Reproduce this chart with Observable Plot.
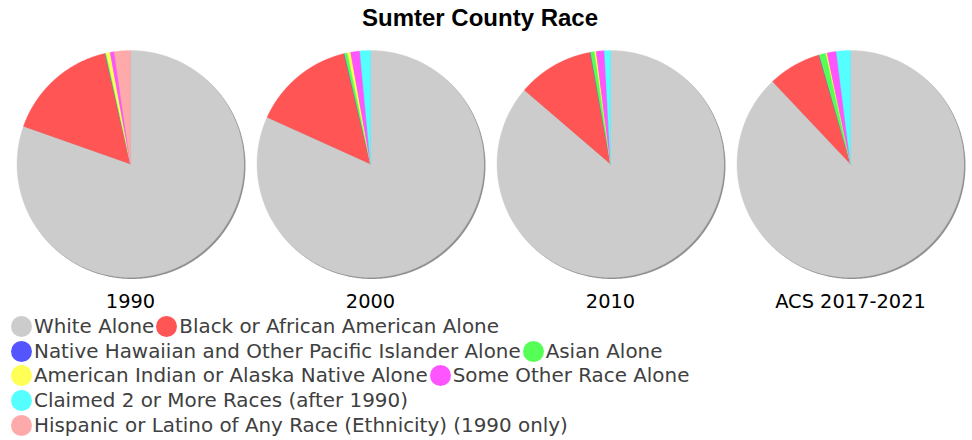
<!DOCTYPE html>
<html><head><meta charset="utf-8">
<script src="https://cdn.jsdelivr.net/npm/d3@7"></script>
<script src="https://cdn.jsdelivr.net/npm/@observablehq/plot@0.6"></script>
<style>
body{margin:0;background:#fff;width:972px;height:440px;position:relative;overflow:hidden;font-family:"DejaVu Sans",sans-serif}
#title{position:absolute;left:0;top:3px;width:960px;text-align:center;font:bold 24px "Liberation Sans",Arial,sans-serif;color:#000;line-height:30px}
#chart{position:absolute;left:0;top:34px}
#legend{position:absolute;left:11px;top:314px;font-size:19.9px;color:#404040;font-family:"DejaVu Sans",sans-serif}
.row{display:flex;align-items:center;height:24.8px;white-space:nowrap}
.sw{width:21px;height:21px;border-radius:50%;margin-right:2px;flex:none}
.lab{margin-right:2px}
</style></head><body>
<div id="title">Sumter County Race</div>
<div id="chart"></div>
<div id="legend"></div>
<script>
const years = ["1990", "2000", "2010", "ACS 2017-2021"];
const races = [
  "White Alone",
  "Black or African American Alone",
  "Native Hawaiian and Other Pacific Islander Alone",
  "Asian Alone",
  "American Indian or Alaska Native Alone",
  "Some Other Race Alone",
  "Claimed 2 or More Races (after 1990)",
  "Hispanic or Latino of Any Race (Ethnicity) (1990 only)"
];
const colors = ["#cccccc", "#ff5555", "#5555ff", "#55ff55", "#ffff55", "#ff55ff", "#55ffff", "#ffaaaa"];
// shares (%) in race order
const share1990 = [80.4, 16.0, 0.03, 0.14, 0.57, 0.57, 0, 2.3];
const share2000 = [81.8, 14.5, 0.05, 0.45, 0.45, 1.3, 1.5, 0];
const share2010 = [86.3, 10.85, 0.05, 0.57, 0.24, 1.15, 0.86, 0];
const shareACS  = [88.0, 7.55, 0.05, 0.95, 0.2, 1.3, 2.0, 0];
const legendRows = [[0, 1], [2, 3], [4, 5], [6], [7]];

const shares = [share1990, share2000, share2010, shareACS];
const pie = d3.pie().sort(null).value(d => d);
const slicePts = [];
const shadowPts = [];
years.forEach((year, yi) => {
  const arcs = pie(shares[yi]);
  arcs.forEach((a, i) => {
    if (a.endAngle - a.startAngle <= 0) return;
    const key = year + "|" + i;
    slicePts.push({year, race: races[i], key, x: 0, y: 0});
    const n = Math.max(2, Math.ceil((a.endAngle - a.startAngle) / 0.005));
    for (let k = 0; k <= n; k++) {
      const t = a.startAngle + (a.endAngle - a.startAngle) * k / n;
      slicePts.push({year, race: races[i], key, x: Math.sin(t), y: Math.cos(t)});
    }
    slicePts.push({year, race: races[i], key, x: 0, y: 0});
  });
  const off = 0.013;
  for (let k = 0; k <= 720; k++) {
    const t = 2 * Math.PI * k / 720;
    shadowPts.push({year, x: Math.sin(t) + off, y: Math.cos(t) - off});
  }
});

const R = 113.5;
const chart = Plot.plot({
  width: 972,
  height: 280,
  marginLeft: 10,
  marginRight: 2,
  marginTop: 16,
  marginBottom: 37,
  style: {fontFamily: "DejaVu Sans", fontSize: "19.4px", color: "#000", background: "white", overflow: "visible"},
  fx: {domain: years, padding: 0, label: null, tickSize: 0, tickPadding: 17},
  x: {domain: [-120 / R, 120 / R], axis: null},
  y: {domain: [-1, 1], axis: null},
  color: {domain: races, range: colors},
  marks: [
    Plot.line(shadowPts, {fx: "year", x: "x", y: "y", z: "year", fill: "#333", fillOpacity: 0.55, stroke: "none", curve: "linear"}),
    Plot.line(slicePts, {fx: "year", x: "x", y: "y", z: "key", fill: "race", stroke: "race", strokeWidth: 0.35, curve: "linear"})
  ]
});
document.getElementById("chart").appendChild(chart);

const legend = document.getElementById("legend");
legendRows.forEach(row => {
  const r = document.createElement("div");
  r.className = "row";
  row.forEach(i => {
    const sw = document.createElement("span");
    sw.className = "sw";
    sw.style.background = colors[i];
    const lab = document.createElement("span");
    lab.className = "lab";
    lab.textContent = races[i];
    r.appendChild(sw);
    r.appendChild(lab);
  });
  legend.appendChild(r);
});
</script>
</body></html>
